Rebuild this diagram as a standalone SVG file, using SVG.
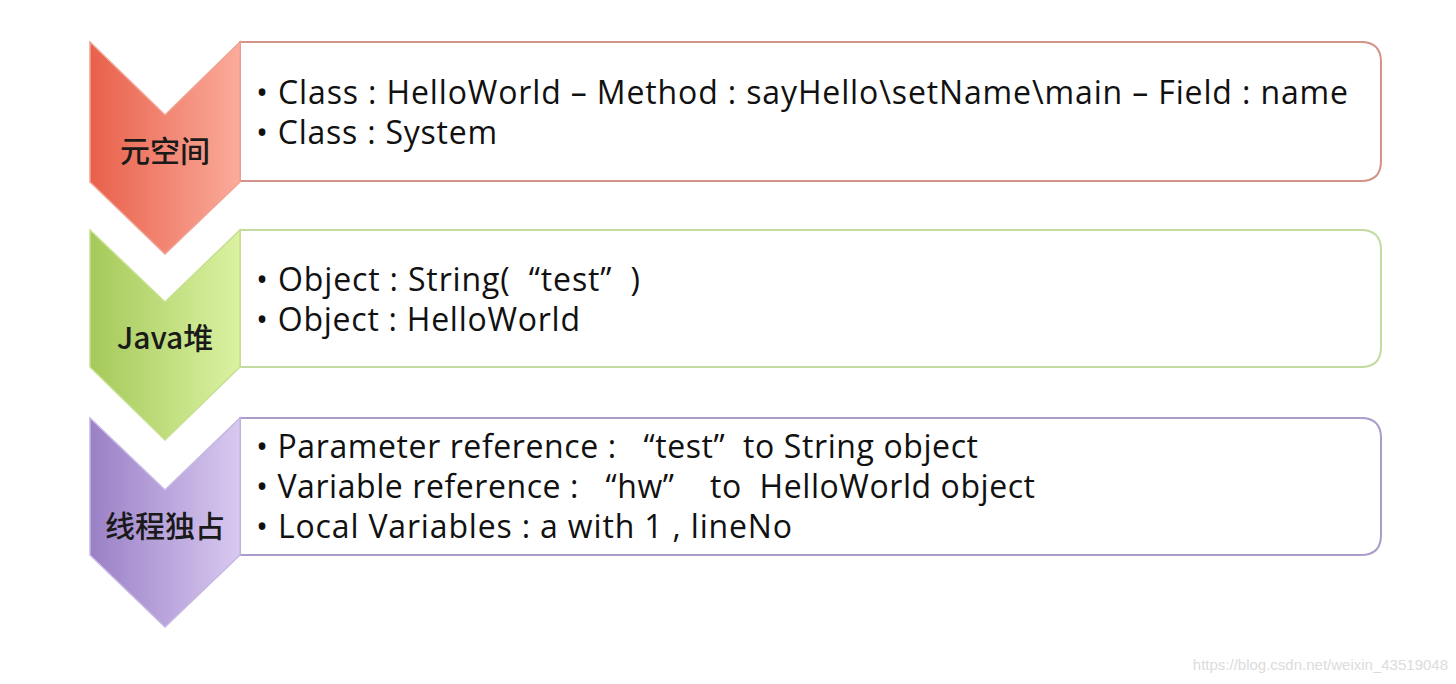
<svg xmlns="http://www.w3.org/2000/svg" width="1456" height="684" viewBox="0 0 1456 684">
<defs>
<linearGradient id="gRed" x1="0" y1="0" x2="1" y2="0"><stop offset="0" stop-color="#e8604a"/><stop offset="1" stop-color="#fbab9b"/></linearGradient>
<linearGradient id="gGreen" x1="0" y1="0" x2="1" y2="0"><stop offset="0" stop-color="#a5c95a"/><stop offset="1" stop-color="#dbf2a2"/></linearGradient>
<linearGradient id="gPurple" x1="0" y1="0" x2="1" y2="0"><stop offset="0" stop-color="#9a80c6"/><stop offset="1" stop-color="#d8c9f0"/></linearGradient>
<style>
.lbl{font-family:"Noto Sans CJK SC","Open Sans",sans-serif;font-size:30px;font-weight:500;fill:#1a1a1a;text-anchor:middle}
.txt{font-family:"Open Sans","Noto Sans CJK SC",sans-serif;font-size:32px;fill:#111}
.box{fill:#fff;stroke-width:2}
.wm{font-family:"Liberation Sans",Arial,sans-serif;font-size:15px;fill:#dcdcdc}
</style>
</defs>
<rect width="1456" height="684" fill="#fff"/>

<g id="metaspace">
<path class="box" stroke="#d29488" d="M240 42 H1361 Q1381 42 1381 62 V161 Q1381 181 1361 181 H240 Z"/>
<path fill="url(#gRed)" stroke="#f1a393" stroke-width="1.5" d="M90 42 L165 115 L240 42 V182 L165 254 L90 182 Z"/>
<text class="lbl" x="165" y="162">元空间</text>
<text class="txt" x="256" y="104" textLength="1092" lengthAdjust="spacing">• Class : HelloWorld – Method : sayHello\setName\main – Field : name</text>
<text class="txt" x="256" y="144" textLength="241" lengthAdjust="spacing">• Class : System</text>
</g>

<g id="javaheap">
<path class="box" stroke="#c3dba0" d="M240 230 H1361 Q1381 230 1381 250 V347 Q1381 367 1361 367 H240 Z"/>
<path fill="url(#gGreen)" stroke="#c6e08e" stroke-width="1.5" d="M90 230 L165 302 L240 230 V367 L165 440 L90 367 Z"/>
<text class="lbl" x="165" y="349">Java堆</text>
<text class="txt" x="256" y="291" textLength="384" lengthAdjust="spacing" xml:space="preserve">• Object : String(  “test”  )</text>
<text class="txt" x="256" y="331" textLength="324" lengthAdjust="spacing">• Object : HelloWorld</text>
</g>

<g id="thread">
<path class="box" stroke="#ab9cc9" d="M240 418 H1361 Q1381 418 1381 438 V535 Q1381 555 1361 555 H240 Z"/>
<path fill="url(#gPurple)" stroke="#c6b6e4" stroke-width="1.5" d="M90 418 L165 490 L240 418 V555 L165 627 L90 555 Z"/>
<text class="lbl" x="165" y="537">线程独占</text>
<text class="txt" x="256" y="458" textLength="722" lengthAdjust="spacing" xml:space="preserve">• Parameter reference :   “test”  to String object</text>
<text class="txt" x="256" y="498" textLength="779" lengthAdjust="spacing" xml:space="preserve">• Variable reference :   “hw”    to  HelloWorld object</text>
<text class="txt" x="256" y="538" textLength="536" lengthAdjust="spacing">• Local Variables : a with 1 , lineNo</text>
</g>

<g id="connectors"></g>

<text class="wm" x="1448" y="670" text-anchor="end">https://blog.csdn.net/weixin_43519048</text>
</svg>
